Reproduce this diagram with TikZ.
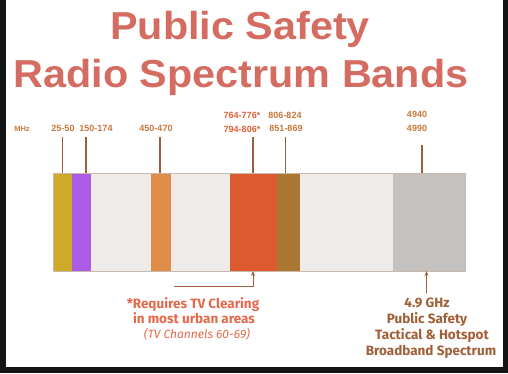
\documentclass[tikz,border=0pt]{standalone}
\usepackage{fontspec}
\setmainfont{Liberation Sans}
\newfontfamily\notefont{Fira Sans}
\usetikzlibrary{positioning, calc, arrows.meta}
\definecolor{titlepink}{RGB}{212,108,98}
\definecolor{tickbrown}{RGB}{160,95,60}
\definecolor{freqorange}{RGB}{200,120,60}
\definecolor{freqred}{RGB}{228,95,55}
\definecolor{notered}{RGB}{228,105,75}
\definecolor{notebrown}{RGB}{160,95,55}
\definecolor{bandgold}{RGB}{205,170,42}
\definecolor{bandpurple}{RGB}{170,92,230}
\definecolor{bandblank}{RGB}{238,235,232}
\definecolor{bandorange}{RGB}{222,140,72}
\definecolor{bandred}{RGB}{220,90,45}
\definecolor{bandbrown}{RGB}{170,120,50}
\definecolor{bandgray}{RGB}{196,193,191}
\definecolor{barline}{RGB}{200,185,175}

\begin{document}
\begin{tikzpicture}[x=1pt, y=-1pt,
    band/.style={rectangle, inner sep=0pt, outer sep=0pt, minimum height=98, anchor=north west},
    tick/.style={draw=tickbrown, line width=1.5pt},
    freq/.style={anchor=base, inner sep=0pt, text=freqorange, font=\bfseries\fontsize{9}{10}\selectfont},
    pointer/.style={-{Stealth[length=5pt,width=4pt]}, draw=tickbrown, line width=1pt},
    note/.style={anchor=base, inner sep=0pt, font=\notefont\bfseries\fontsize{13.5}{15}\selectfont},
    titletext/.style={anchor=base, inner sep=0pt, text=titlepink, xscale=1.06, font=\bfseries\fontsize{39}{44}\selectfont},
]
% frame
\fill[black!92] (0,0) rectangle (508,373);
\fill[white] (6,0) rectangle (503,367);

% title
\node[titletext] (title1) at (240,39) {Public Safety};
\node[titletext] (title2) at (241,87) {Radio Spectrum Bands};

% spectrum bar
\node[band, fill=bandgold, minimum width=19] (b25) at (53,173) {};
\node[band, fill=bandpurple, minimum width=19] (b150) at (72,173) {};
\node[band, fill=bandblank, minimum width=60] (gap1) at (91,173) {};
\node[band, fill=bandorange, minimum width=20] (b450) at (151,173) {};
\node[band, fill=bandblank, minimum width=59] (gap2) at (171,173) {};
\node[band, fill=bandred, minimum width=47] (b764) at (230,173) {};
\node[band, fill=bandbrown, minimum width=23] (b806) at (277,173) {};
\node[band, fill=bandblank, minimum width=93] (gap3) at (300,173) {};
\node[band, fill=bandgray, minimum width=72] (b4940) at (393,173) {};
\draw[barline, line width=0.7pt] (b25.north west) rectangle (b4940.south east);

% frequency labels
\node[freq, font=\bfseries\fontsize{7.5}{9}\selectfont] (mhz) at (22,131) {MHz};
\node[freq] (l25) at (63,131.5) {25-50};
\node[freq] (l150) at (96,131.5) {150-174};
\node[freq] (l450) at (156,131.5) {450-470};
\node[freq, text=freqred] (l764) at (242,118) {764-776*};
\node[freq, text=freqred] (l794) at (242,132) {794-806*};
\node[freq] (l806) at (285,118) {806-824};
\node[freq] (l851) at (286,131.7) {851-869};
\node[freq] (l4940) at (417,117) {4940};
\node[freq] (l4990) at (417,131.7) {4990};

% ticks
\coordinate (t25) at (62.7,137);
\coordinate (t150) at (86,137);
\coordinate (t450) at (160,137);
\coordinate (t764) at (253,137);
\coordinate (t806) at (285.7,137);
\coordinate (t4940) at (422,145);
\draw[tick] (t25) -- (t25 |- b25.north);
\draw[tick] (t150) -- (t150 |- b150.north);
\draw[tick] (t450) -- (t450 |- b450.north);
\draw[tick] (t764) -- (t764 |- b764.north);
\draw[tick] (t806) -- (t806 |- b806.north);
\draw[tick] (t4940) -- (t4940 |- b4940.north);

% pointers
\coordinate (c764) at (174,286.5);
\coordinate (c4940) at (426.5,293);
\draw[pointer] (c764) -| (t764 |- b764.south);
\draw[pointer] (c4940) -- (c4940 |- b4940.south);

% notes
\node[note, text=notered] (req1) at (193,308) {*Requires TV Clearing};
\node[note, text=notered] (req2) at (194,323) {in most urban areas};
\node[note, text=notered, font=\notefont\itshape\fontsize{12}{14}\selectfont] (req3) at (197,338) {(TV Channels 60-69)};
\node[note, text=notebrown] (gh1) at (427,307) {4.9 GHz};
\node[note, text=notebrown] (gh2) at (427,323) {Public Safety};
\node[note, text=notebrown] (gh3) at (432,339) {Tactical \& Hotspot};
\node[note, text=notebrown] (gh4) at (431,355) {Broadband Spectrum};
\end{tikzpicture}
\end{document}
